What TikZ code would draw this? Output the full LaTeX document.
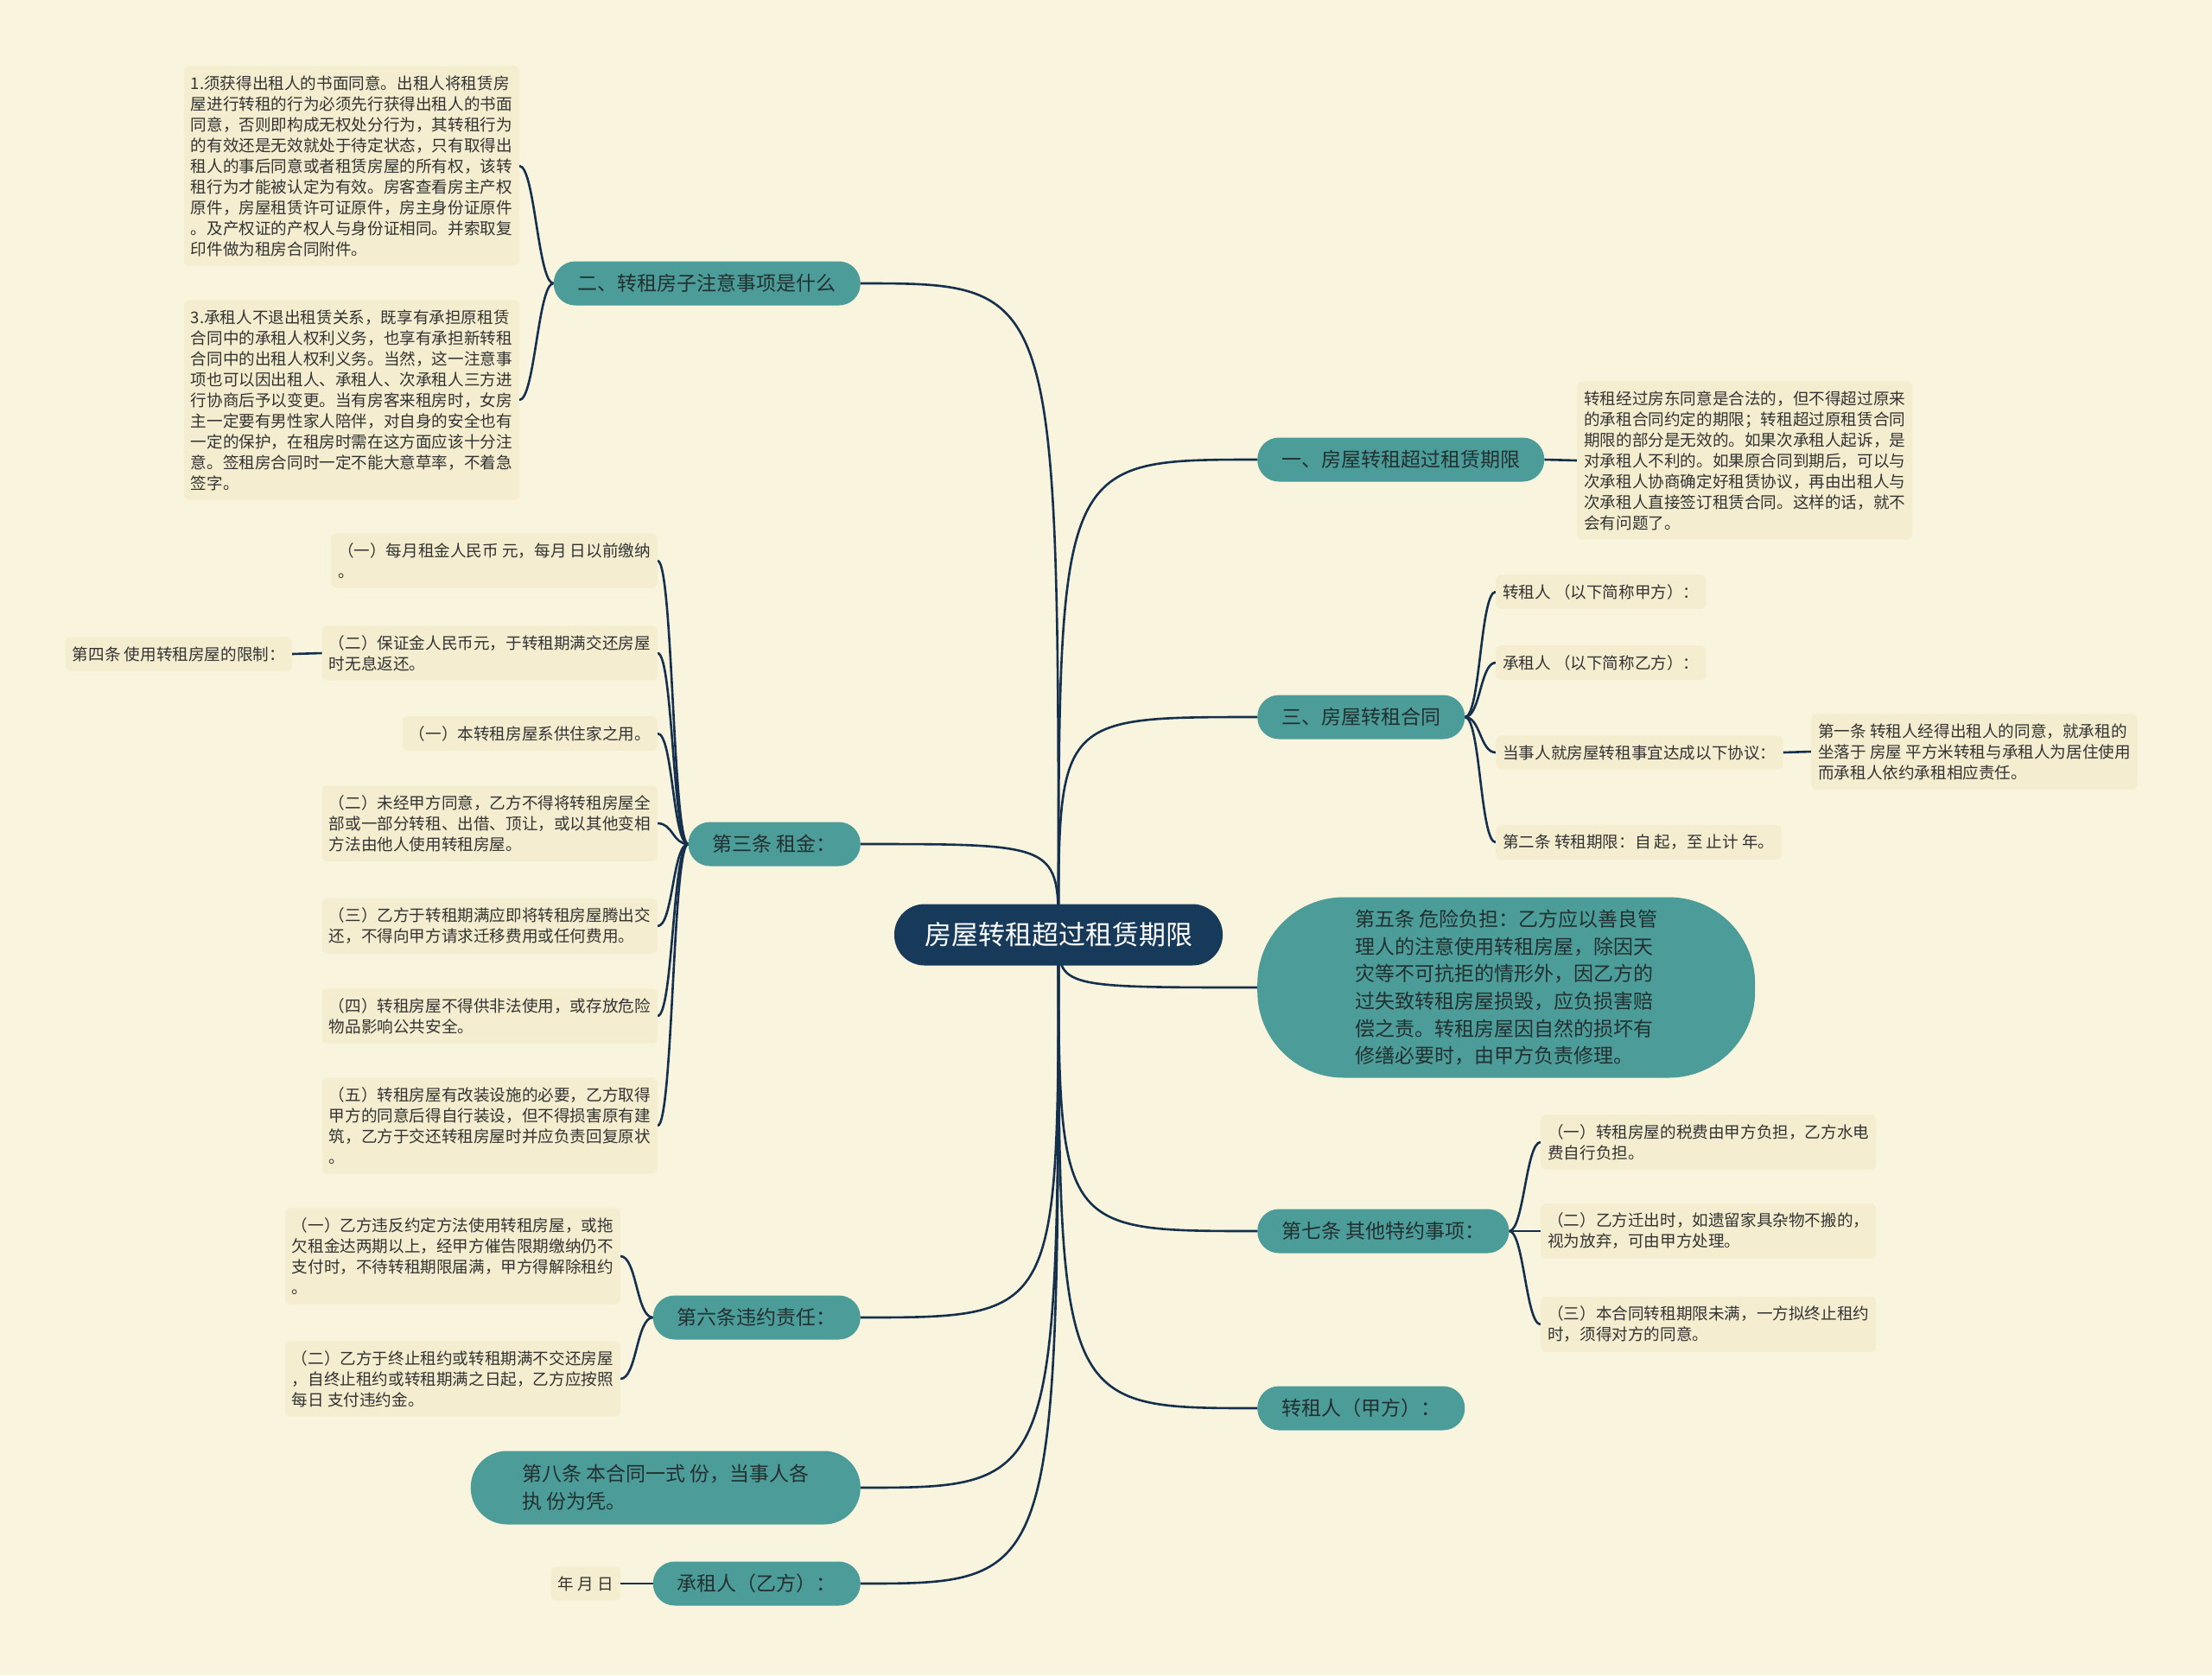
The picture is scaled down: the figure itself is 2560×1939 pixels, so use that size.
\documentclass[tikz,border=0pt]{standalone}
\usepackage{fontspec}
\setmainfont{Noto Sans CJK SC}
\usetikzlibrary{backgrounds}
\definecolor{bgCream}{HTML}{F9F4DE}
\definecolor{leafFill}{HTML}{F4EDCF}
\definecolor{topicTeal}{HTML}{4C9C9A}
\definecolor{rootNavy}{HTML}{173A5A}
\definecolor{linkNavy}{HTML}{14304D}
\definecolor{leafText}{HTML}{333333}
\definecolor{topicText}{HTML}{22302F}

\begin{document}
\begin{tikzpicture}[x=1pt, y=-1pt,
    root/.style={fill=rootNavy, text=white, rounded corners=35pt, minimum height=71pt, inner xsep=35pt, font=\fontsize{31}{38}\selectfont},
    topic/.style={fill=topicTeal, text=topicText, rounded corners=25pt, minimum height=51pt, inner xsep=28pt, font=\fontsize{23}{31}\selectfont},
    bigtopic/.style={topic, align=left, inner ysep=14pt, font=\fontsize{23}{31.7}\selectfont},
    leaf/.style={fill=leafFill, text=leafText, rounded corners=6pt, align=left, inner xsep=8pt, inner ysep=11pt, font=\fontsize{18.6}{24}\selectfont},
    link/.style={draw=linkNavy, line width=2.6pt}]
  \useasboundingbox (0,0) rectangle (2560,1939);
  \begin{scope}[on background layer]
    \fill[bgCream] (0,0) rectangle (2560,1939);
  \end{scope}

  \node[root] (root) at (1225,1082) {房屋转租超过租赁期限};

  % left side
  \node[topic, anchor=east] (zhuyi) at (996,328) {二、转租房子注意事项是什么};
  \node[leaf, anchor=east] (zhuyiA) at (601,192) {1.须获得出租人的书面同意。出租人将租赁房\\屋进行转租的行为必须先行获得出租人的书面\\同意，否则即构成无权处分行为，其转租行为\\的有效还是无效就处于待定状态，只有取得出\\租人的事后同意或者租赁房屋的所有权，该转\\租行为才能被认定为有效。房客查看房主产权\\原件，房屋租赁许可证原件，房主身份证原件\\。及产权证的产权人与身份证相同。并索取复\\印件做为租房合同附件。};
  \node[leaf, anchor=east] (zhuyiB) at (601,463) {3.承租人不退出租赁关系，既享有承担原租赁\\合同中的承租人权利义务，也享有承担新转租\\合同中的出租人权利义务。当然，这一注意事\\项也可以因出租人、承租人、次承租人三方进\\行协商后予以变更。当有房客来租房时，女房\\主一定要有男性家人陪伴，对自身的安全也有\\一定的保护，在租房时需在这方面应该十分注\\意。签租房合同时一定不能大意草率，不着急\\签字。};

  \node[topic, anchor=east] (zujin) at (996,977) {第三条 租金：};
  \node[leaf, anchor=east] (zujinA) at (761,649) {（一）每月租金人民币 元，每月 日以前缴纳\\。};
  \node[leaf, anchor=east] (zujinB) at (761,756) {（二）保证金人民币元，于转租期满交还房屋\\时无息返还。};
  \node[leaf, anchor=east] (zujinC) at (761,849) {（一）本转租房屋系供住家之用。};
  \node[leaf, anchor=east] (zujinD) at (761,953) {（二）未经甲方同意，乙方不得将转租房屋全\\部或一部分转租、出借、顶让，或以其他变相\\方法由他人使用转租房屋。};
  \node[leaf, anchor=east] (zujinE) at (761,1072) {（三）乙方于转租期满应即将转租房屋腾出交\\还，不得向甲方请求迁移费用或任何费用。};
  \node[leaf, anchor=east] (zujinF) at (761,1176) {（四）转租房屋不得供非法使用，或存放危险\\物品影响公共安全。};
  \node[leaf, anchor=east] (zujinG) at (761,1303) {（五）转租房屋有改装设施的必要，乙方取得\\甲方的同意后得自行装设，但不得损害原有建\\筑，乙方于交还转租房屋时并应负责回复原状\\。};
  \node[leaf, anchor=east] (xianzhi) at (338,757) {第四条 使用转租房屋的限制：};

  \node[topic, anchor=east] (weiyue) at (996,1525) {第六条违约责任：};
  \node[leaf, anchor=east] (weiyueA) at (718,1454) {（一）乙方违反约定方法使用转租房屋，或拖\\欠租金达两期以上，经甲方催告限期缴纳仍不\\支付时，不待转租期限届满，甲方得解除租约\\。};
  \node[leaf, anchor=east] (weiyueB) at (718,1596) {（二）乙方于终止租约或转租期满不交还房屋\\，自终止租约或转租期满之日起，乙方应按照\\每日 支付违约金。};

  \node[bigtopic, anchor=east, minimum width=451pt, minimum height=85pt, rounded corners=42pt] (fenshu) at (996,1722) {第八条 本合同一式 份，当事人各\\执 份为凭。};
  \node[topic, anchor=east] (chengzu) at (996,1833) {承租人（乙方）：};
  \node[leaf, anchor=east] (riqi) at (718,1833) {年 月 日};

  % right side
  \node[topic, anchor=west] (chaoguo) at (1455,532) {一、房屋转租超过租赁期限};
  \node[leaf, anchor=west] (chaoguoA) at (1825,533) {转租经过房东同意是合法的，但不得超过原来\\的承租合同约定的期限；转租超过原租赁合同\\期限的部分是无效的。如果次承租人起诉，是\\对承租人不利的。如果原合同到期后，可以与\\次承租人协商确定好租赁协议，再由出租人与\\次承租人直接签订租赁合同。这样的话，就不\\会有问题了。};

  \node[topic, anchor=west] (hetong) at (1455,830) {三、房屋转租合同};
  \node[leaf, anchor=west] (hetongA) at (1731,685) {转租人 （以下简称甲方）：};
  \node[leaf, anchor=west] (hetongB) at (1731,767) {承租人 （以下简称乙方）：};
  \node[leaf, anchor=west] (hetongC) at (1731,871) {当事人就房屋转租事宜达成以下协议：};
  \node[leaf, anchor=west] (hetongD) at (1731,975) {第二条 转租期限：自 起，至 止计 年。};
  \node[leaf, anchor=west] (diyi) at (2096,870) {第一条 转租人经得出租人的同意，就承租的\\坐落于 房屋 平方米转租与承租人为居住使用\\而承租人依约承租相应责任。};

  \node[bigtopic, anchor=west, minimum width=576pt, minimum height=209pt, rounded corners=100pt] (weixian) at (1455,1143) {第五条 危险负担：乙方应以善良管\\理人的注意使用转租房屋，除因天\\灾等不可抗拒的情形外，因乙方的\\过失致转租房屋损毁，应负损害赔\\偿之责。转租房屋因自然的损坏有\\修缮必要时，由甲方负责修理。};

  \node[topic, anchor=west] (teyue) at (1455,1425) {第七条 其他特约事项：};
  \node[leaf, anchor=west] (teyueA) at (1783,1322) {（一）转租房屋的税费由甲方负担，乙方水电\\费自行负担。};
  \node[leaf, anchor=west] (teyueB) at (1783,1425) {（二）乙方迁出时，如遗留家具杂物不搬的，\\视为放弃，可由甲方处理。};
  \node[leaf, anchor=west] (teyueC) at (1783,1533) {（三）本合同转租期限未满，一方拟终止租约\\时，须得对方的同意。};

  \node[topic, anchor=west] (zhuanzu) at (1455,1630) {转租人（甲方）：};

  % connectors
  \begin{scope}[on background layer]
    \foreach \t in {zhuyi, zujin, weiyue, fenshu, chengzu}
      \draw[link] (root.center) .. controls (root.center |- \t.east) .. (\t.east);
    \foreach \t in {chaoguo, hetong, weixian, teyue, zhuanzu}
      \draw[link] (root.center) .. controls (root.center |- \t.west) .. (\t.west);
    \foreach \c in {zhuyiA, zhuyiB}
      \draw[link] (zhuyi.west) .. controls +(-18,0) and +(18,0) .. (\c.east);
    \foreach \c in {zujinA, zujinB, zujinC, zujinD, zujinE, zujinF, zujinG}
      \draw[link] (zujin.west) .. controls +(-18,0) and +(18,0) .. (\c.east);
    \foreach \c in {weiyueA, weiyueB}
      \draw[link] (weiyue.west) .. controls +(-19,0) and +(19,0) .. (\c.east);
    \foreach \c in {hetongA, hetongB, hetongC, hetongD}
      \draw[link] (hetong.east) .. controls +(18,0) and +(-18,0) .. (\c.west);
    \foreach \c in {teyueA, teyueB, teyueC}
      \draw[link] (teyue.east) .. controls +(17,0) and +(-17,0) .. (\c.west);
    \draw[link] (zujinB.west) -- (xianzhi.east);
    \draw[link] (chengzu.west) -- (riqi.east);
    \draw[link] (chaoguo.east) -- (chaoguoA.west);
    \draw[link] (hetongC.east) -- (diyi.west);
  \end{scope}
\end{tikzpicture}
\end{document}
